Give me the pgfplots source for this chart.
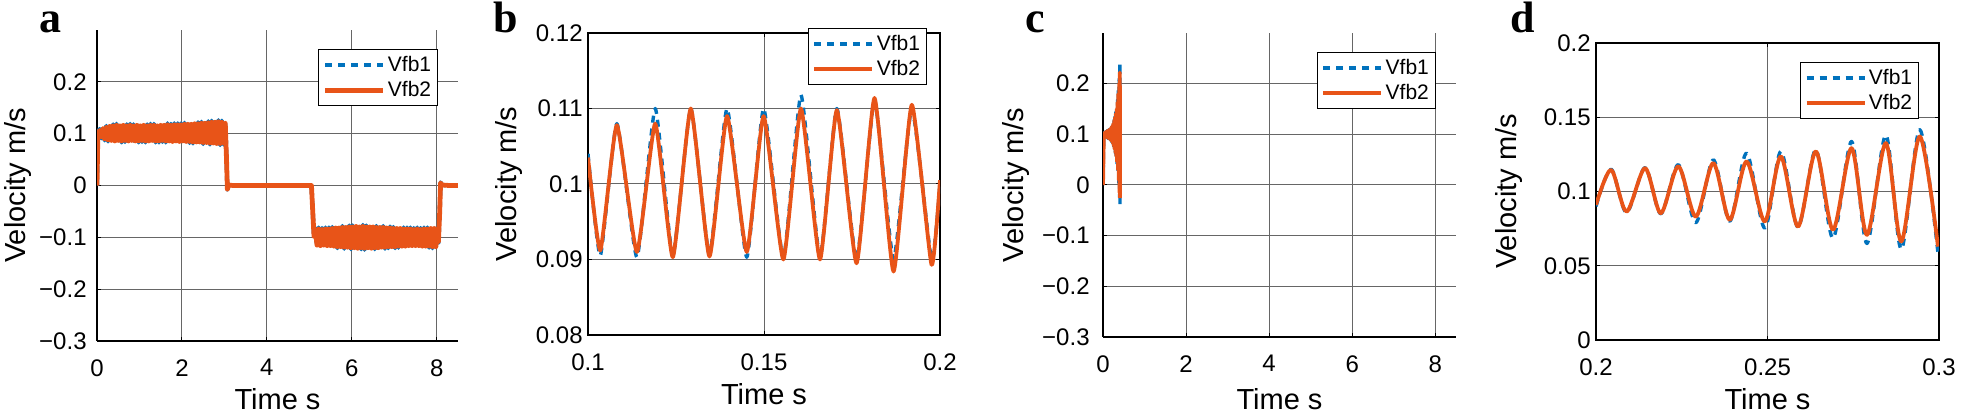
\documentclass[border=0pt]{standalone}
\usepackage{fontspec}
\setmainfont{Liberation Sans}
\newfontfamily\letterfont{Liberation Serif}
\usepackage{pgfplots}
\usepackage{pgfplotstable}
\pgfplotsset{compat=1.18}
\definecolor{mblue}{RGB}{0,114,189}
\definecolor{morange}{RGB}{232,84,24}

\pgfplotstableread{
t v1 v2
0 0 0
0.02 0.100 0.100
0.06 0.109 0.106
0.10 0.091 0.094
0.14 0.113 0.110
0.18 0.087 0.090
0.22 0.115 0.112
0.26 0.085 0.088
0.30 0.117 0.114
0.34 0.084 0.087
0.38 0.118 0.115
0.42 0.083 0.086
0.46 0.119 0.116
0.50 0.084 0.087
0.54 0.118 0.115
0.58 0.083 0.086
0.62 0.119 0.116
0.66 0.084 0.087
0.70 0.118 0.115
0.74 0.083 0.086
0.78 0.119 0.116
0.82 0.084 0.087
0.86 0.118 0.115
0.90 0.083 0.086
0.94 0.119 0.116
0.98 0.083 0.086
1.02 0.118 0.115
1.06 0.084 0.087
1.10 0.119 0.116
1.14 0.083 0.086
1.18 0.118 0.115
1.22 0.083 0.086
1.26 0.119 0.116
1.30 0.084 0.087
1.34 0.119 0.116
1.38 0.083 0.086
1.42 0.118 0.115
1.46 0.083 0.086
1.50 0.119 0.116
1.54 0.084 0.087
1.58 0.119 0.116
1.62 0.083 0.086
1.66 0.120 0.117
1.70 0.083 0.086
1.74 0.119 0.116
1.78 0.082 0.085
1.82 0.120 0.117
1.86 0.083 0.086
1.90 0.120 0.117
1.94 0.082 0.085
1.98 0.120 0.117
2.02 0.083 0.086
2.06 0.121 0.118
2.10 0.082 0.085
2.14 0.121 0.118
2.18 0.082 0.085
2.22 0.121 0.118
2.26 0.081 0.084
2.30 0.122 0.119
2.34 0.081 0.084
2.38 0.122 0.119
2.42 0.081 0.084
2.46 0.123 0.120
2.50 0.080 0.083
2.54 0.123 0.120
2.58 0.080 0.083
2.62 0.124 0.121
2.66 0.079 0.082
2.70 0.125 0.122
2.74 0.079 0.082
2.78 0.125 0.122
2.82 0.078 0.081
2.86 0.126 0.123
2.90 0.078 0.081
2.94 0.125 0.122
2.98 0.079 0.082
3.02 0.122 0.120
3.05 0.050 0.050
3.07 -0.008 -0.007
3.10 0.001 0.001
3.20 0.000 0.000
3.60 0.000 0.000
4.00 0.000 0.000
4.50 0.000 0.000
5.05 0.000 0.000
5.08 -0.050 -0.050
5.11 -0.098 -0.098
5.14 -0.082 -0.085
5.18 -0.118 -0.115
5.22 -0.081 -0.084
5.26 -0.119 -0.116
5.30 -0.082 -0.085
5.34 -0.118 -0.115
5.38 -0.081 -0.084
5.42 -0.119 -0.116
5.46 -0.081 -0.084
5.50 -0.119 -0.116
5.54 -0.080 -0.083
5.58 -0.120 -0.117
5.62 -0.079 -0.082
5.66 -0.121 -0.118
5.70 -0.079 -0.082
5.74 -0.121 -0.118
5.78 -0.078 -0.081
5.82 -0.122 -0.119
5.86 -0.078 -0.081
5.90 -0.122 -0.119
5.94 -0.077 -0.080
5.98 -0.123 -0.120
6.02 -0.077 -0.080
6.06 -0.123 -0.120
6.10 -0.076 -0.079
6.14 -0.124 -0.121
6.18 -0.077 -0.080
6.22 -0.123 -0.120
6.26 -0.076 -0.079
6.30 -0.124 -0.121
6.34 -0.077 -0.080
6.38 -0.123 -0.120
6.42 -0.077 -0.080
6.46 -0.124 -0.121
6.50 -0.077 -0.080
6.54 -0.123 -0.120
6.58 -0.078 -0.081
6.62 -0.123 -0.120
6.66 -0.078 -0.081
6.70 -0.122 -0.119
6.74 -0.078 -0.081
6.78 -0.122 -0.119
6.82 -0.079 -0.082
6.86 -0.121 -0.118
6.90 -0.079 -0.082
6.94 -0.121 -0.118
6.98 -0.080 -0.083
7.02 -0.121 -0.118
7.06 -0.080 -0.083
7.10 -0.120 -0.117
7.14 -0.080 -0.083
7.18 -0.120 -0.117
7.22 -0.081 -0.084
7.26 -0.120 -0.117
7.30 -0.081 -0.084
7.34 -0.119 -0.116
7.38 -0.081 -0.084
7.42 -0.119 -0.116
7.46 -0.082 -0.085
7.50 -0.119 -0.116
7.54 -0.081 -0.084
7.58 -0.119 -0.116
7.62 -0.082 -0.085
7.66 -0.120 -0.117
7.70 -0.081 -0.084
7.74 -0.120 -0.117
7.78 -0.081 -0.084
7.82 -0.120 -0.117
7.86 -0.080 -0.083
7.90 -0.121 -0.118
7.94 -0.080 -0.083
7.98 -0.121 -0.118
8.02 -0.080 -0.083
8.04 -0.110 -0.108
8.07 -0.050 -0.050
8.09 0.006 0.005
8.12 0.001 0.001
8.30 0.000 0.000
8.50 0.000 0.000
}\dataA

\pgfplotstableread{
t v1 v2
0.1000 0.1040 0.1035
0.1035 0.0905 0.0912
0.1082 0.1080 0.1078
0.1139 0.0903 0.0910
0.1191 0.1100 0.1080
0.1241 0.0905 0.0903
0.1292 0.1100 0.1100
0.1345 0.0906 0.0904
0.1395 0.1100 0.1090
0.1451 0.0903 0.0910
0.1499 0.1100 0.1090
0.1555 0.0902 0.0900
0.1605 0.1118 0.1100
0.1659 0.0903 0.0900
0.1707 0.1100 0.1098
0.1763 0.0900 0.0895
0.1814 0.1110 0.1114
0.1868 0.0900 0.0884
0.1920 0.1100 0.1105
0.1976 0.0900 0.0893
0.2000 0.1000 0.1005
}\dataB

\pgfplotstableread{
t v1 v2
0 0 0
0.02 0.100 0.100
0.03 0.104 0.103
0.04 0.096 0.097
0.05 0.105 0.104
0.06 0.095 0.096
0.07 0.106 0.105
0.08 0.094 0.095
0.09 0.107 0.106
0.10 0.093 0.094
0.11 0.108 0.107
0.12 0.092 0.093
0.13 0.109 0.108
0.14 0.091 0.092
0.15 0.110 0.109
0.16 0.090 0.091
0.17 0.111 0.110
0.18 0.089 0.090
0.19 0.113 0.112
0.20 0.086 0.087
0.21 0.116 0.115
0.22 0.084 0.085
0.23 0.118 0.117
0.24 0.081 0.082
0.25 0.122 0.121
0.26 0.076 0.077
0.27 0.129 0.127
0.28 0.069 0.071
0.29 0.135 0.133
0.30 0.062 0.064
0.31 0.144 0.141
0.32 0.054 0.057
0.33 0.154 0.150
0.34 0.042 0.046
0.35 0.168 0.163
0.36 0.025 0.030
0.37 0.187 0.180
0.38 0.004 0.010
0.39 0.210 0.200
0.40 -0.025 -0.015
0.405 0.241 0.222
0.41 -0.038 -0.026
}\dataC

\pgfplotstableread{
t v1 v2
0.2000 0.0900 0.0910
0.2044 0.1150 0.1146
0.2089 0.0858 0.0865
0.2143 0.1160 0.1157
0.2189 0.0850 0.0854
0.2240 0.1180 0.1169
0.2291 0.0790 0.0831
0.2342 0.1213 0.1191
0.2390 0.0800 0.0809
0.2439 0.1258 0.1202
0.2492 0.0753 0.0798
0.2539 0.1270 0.1236
0.2589 0.0760 0.0764
0.2641 0.1280 0.1270
0.2691 0.0685 0.0742
0.2745 0.1337 0.1292
0.2790 0.0650 0.0708
0.2845 0.1380 0.1326
0.2890 0.0611 0.0663
0.2944 0.1416 0.1371
0.2997 0.0584 0.0629
}\dataD

\pgfplotsset{
  panel/.style={
    scale only axis, anchor=south west, enlargelimits=false,
    grid=major, grid style={line width=0.5pt, draw=black!60},
    axis line style={line width=0.6pt, black},
    tick align=inside, major tick length=2pt, tick style={line width=0.5pt, black},
    ticklabel style={font=\fontsize{12}{14}\selectfont},
    xticklabel style={inner sep=0pt, anchor=north, yshift=-9pt},
    yticklabel style={inner sep=0pt, anchor=east},
    label style={font=\fontsize{14.5}{16}\selectfont},
    xlabel style={at={(axis description cs:0.5,0)}, anchor=north, inner sep=0pt},
    ylabel style={anchor=south, inner sep=0pt},
    legend style={draw=black, line width=0.6pt, fill=white, anchor=north east,
      font=\fontsize{10.5}{12}\selectfont, inner sep=2pt, row sep=1pt,
      nodes={inner sep=1.2pt}},
    legend cell align=left,
    legend image code/.code={\draw[#1] (0pt,0pt) -- (29pt,0pt);},
    xlabel={Time s}, ylabel={Velocity m/s},
    scaled ticks=false,
  },
  v1/.style={mblue, line width=1.7pt, line join=round, dash pattern=on 3.5pt off 3pt},
  v2/.style={morange, line width=1.9pt, line join=round},
}

\begin{document}
\begin{tikzpicture}
\path[use as bounding box] (0,0) rectangle (980.5pt,208pt);

% ---------- a ----------
\begin{axis}[panel, at={(48.5pt,37.5pt)}, width=180.5pt, height=155.5pt,
  axis lines*=left, xtick pos=left, ytick pos=left,
  xmin=0, xmax=8.5, ymin=-0.3, ymax=0.3,
  xtick={0,2,4,6,8}, xticklabels={0,2,4,6,8},
  ytick={-0.3,-0.2,-0.1,0,0.1,0.2}, yticklabels={−0.3,−0.2,−0.1,0,0.1,0.2},
  yticklabel style={xshift=-5pt},
  xlabel style={yshift=-23.5pt},
  ylabel style={at={(axis description cs:-0.18,0.5)}},
  legend style={at={(0.945,0.939)}}]
\addplot[v1, line width=2.1pt] table[x=t, y=v1] {\dataA};
\addplot[v2, line width=2.4pt] table[x=t, y=v2] {\dataA};
\legend{Vfb1,Vfb2}
\end{axis}

% ---------- b ----------
\begin{axis}[panel, at={(294pt,40.5pt)}, width=176pt, height=151pt,
  xmin=0.1, xmax=0.2, ymin=0.08, ymax=0.12,
  xtick={0.1,0.15,0.2}, xticklabels={0.1,0.15,0.2},
  ytick={0.08,0.09,0.1,0.11,0.12}, yticklabels={0.08,0.09,0.1,0.11,0.12},
  yticklabel style={xshift=-2.5pt},
  xlabel style={yshift=-24pt},
  ylabel style={at={(axis description cs:-0.185,0.5)}},
  legend style={at={(0.963,1.017)}}]
\addplot[v1, smooth, tension=0.3] table[x=t, y=v1] {\dataB};
\addplot[v2, smooth, tension=0.3] table[x=t, y=v2] {\dataB};
\legend{Vfb1,Vfb2}
\end{axis}

% ---------- c ----------
\begin{axis}[panel, at={(551.5pt,39.5pt)}, width=176.5pt, height=152pt,
  axis lines*=left, xtick pos=left, ytick pos=left,
  xmin=0, xmax=8.5, ymin=-0.3, ymax=0.3,
  xtick={0,2,4,6,8}, xticklabels={0,2,4,6,8},
  ytick={-0.3,-0.2,-0.1,0,0.1,0.2}, yticklabels={−0.3,−0.2,−0.1,0,0.1,0.2},
  yticklabel style={xshift=-6.5pt},
  xlabel style={yshift=-25.5pt},
  ylabel style={at={(axis description cs:-0.207,0.5)}},
  legend style={at={(0.943,0.9375)}}]
\addplot[v1] table[x=t, y=v1] {\dataC};
\addplot[v2] table[x=t, y=v2] {\dataC};
\legend{Vfb1,Vfb2}
\end{axis}

% ---------- d ----------
\begin{axis}[panel, at={(798pt,38pt)}, width=171.5pt, height=148.5pt,
  xmin=0.2, xmax=0.3, ymin=0, ymax=0.2,
  xtick={0.2,0.25,0.3}, xticklabels={0.2,0.25,0.3},
  ytick={0,0.05,0.1,0.15,0.2}, yticklabels={0,0.05,0.1,0.15,0.2},
  yticklabel style={xshift=-2.5pt},
  xlabel style={yshift=-24pt},
  ylabel style={at={(axis description cs:-0.213,0.5)}},
  legend style={at={(0.942,0.936)}}]
\addplot[v1, smooth] table[x=t, y=v1] {\dataD};
\addplot[v2, smooth] table[x=t, y=v2] {\dataD};
\legend{Vfb1,Vfb2}
\end{axis}

\begin{scope}[every node/.style={anchor=base west, inner sep=0pt, font=\letterfont\bfseries\fontsize{22}{24}\selectfont}]
\node at (19.5pt,191.5pt) {a};
\node at (246.5pt,191.5pt) {b};
\node at (512.5pt,191.5pt) {c};
\node at (755pt,191.5pt) {d};
\end{scope}
\end{tikzpicture}
\end{document}
